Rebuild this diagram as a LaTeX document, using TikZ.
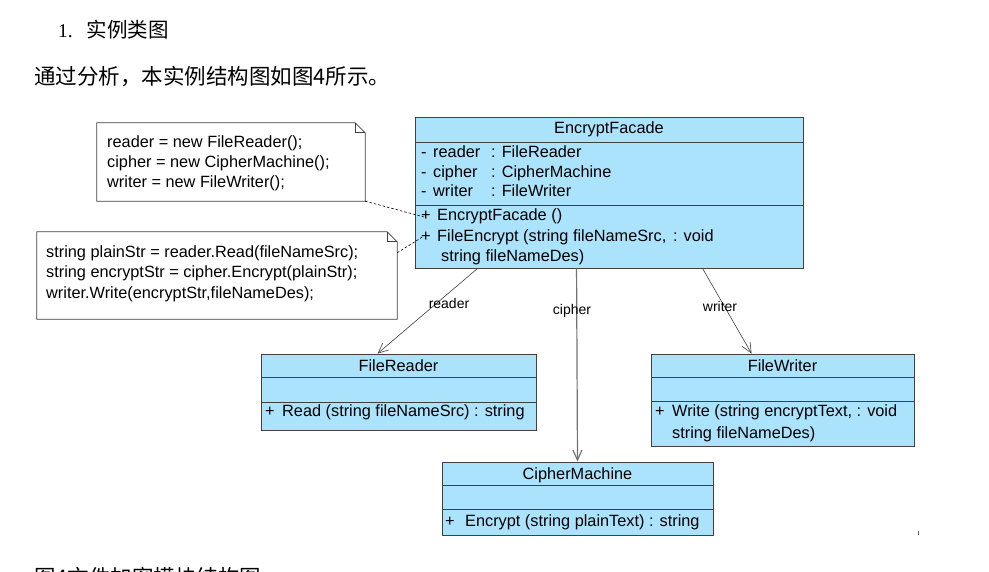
\documentclass[tikz,border=0pt]{standalone}
\usepackage{fontspec}
\setmainfont{Liberation Sans}
\newfontfamily\cjk{Noto Sans CJK SC}
\newfontfamily\numserif{Liberation Serif}
\usetikzlibrary{arrows.meta}
\definecolor{clsblue}{HTML}{ABE3FC}
\definecolor{lineg}{HTML}{404040}
\tikzset{
  clsbox/.style={draw=lineg, fill=clsblue, line width=0.9pt, inner sep=0pt},
  notebox/.style={inner sep=0pt},
  noteline/.style={draw=lineg, line width=0.8pt},
  sep/.style={draw=lineg, line width=0.8pt},
  txt/.style={anchor=base west, inner sep=0pt, font=\fontsize{16.3}{19}\selectfont},
  ctxt/.style={anchor=base, inner sep=0pt, font=\fontsize{16.3}{19}\selectfont},
  lbl/.style={inner sep=0pt, font=\fontsize{14}{16}\selectfont},
  assoc/.style={draw=lineg, line width=0.6pt, -{Straight Barb[length=10pt,width=9pt]}},
  assocg/.style={draw=black!55, line width=1.2pt, -{Straight Barb[length=10pt,width=9pt]}},
  anchorline/.style={draw=black, line width=0.6pt, dash pattern=on 2.5pt off 2pt},
}
\begin{document}
\begin{tikzpicture}[x=1pt, y=-1pt]
\useasboundingbox (0,0) rectangle (989,572);
\clip (0,0) rectangle (989,572);

% headings
\node[anchor=base west, inner sep=0pt, font=\fontsize{19.5}{22}\selectfont] (h1) at (58,37.5) {\numserif 1.\hspace{14pt}\cjk\fontsize{20.5}{24}\selectfont 实例类图};
\node[anchor=base west, inner sep=0pt, font=\cjk\fontsize{21.5}{24}\selectfont] (h2) at (34,85) {通过分析，本实例结构图如图4所示。};
\node[anchor=base west, inner sep=0pt, font=\cjk\fontsize{21.5}{24}\selectfont] (cap) at (34,585.5) {图4文件加密模块结构图};

% EncryptFacade
\node[clsbox, minimum width=388pt, minimum height=151pt] (ef) at (609,192.5) {};
\draw[sep] (415,142) -- (803,142);
\draw[sep] (415,205) -- (803,205);
\node[ctxt] (eft) at (609,134) {EncryptFacade};
\node[txt] (efa1) at (421,157.5) {\makebox[12pt][l]{-}\makebox[58pt][l]{reader}: FileReader};
\node[txt] (efa2) at (421,177.5) {\makebox[12pt][l]{-}\makebox[58pt][l]{cipher}: CipherMachine};
\node[txt] (efa3) at (421,196.5) {\makebox[12pt][l]{-}\makebox[58pt][l]{writer}: FileWriter};
\node[txt] (efm1) at (421,220.5) {\makebox[16pt][l]{+}EncryptFacade ()};
\node[txt] (efm2) at (421,241.5) {\makebox[16pt][l]{+}\makebox[236pt][l]{FileEncrypt (string fileNameSrc,}: void};
\node[txt] (efm3) at (441,261.5) {string fileNameDes)};

% FileReader
\node[clsbox, minimum width=275pt, minimum height=76pt] (fr) at (398.5,392) {};
\draw[sep] (261,377) -- (536,377);
\draw[sep] (261,402) -- (536,402);
\node[ctxt] (frt) at (398.5,371) {FileReader};
\node[txt] (frm) at (265,416.5) {\makebox[17pt][l]{+}Read (string fileNameSrc) : string};

% FileWriter
\node[clsbox, minimum width=263pt, minimum height=92pt] (fw) at (782.5,400) {};
\draw[sep] (651,377) -- (914,377);
\draw[sep] (651,401) -- (914,401);
\node[ctxt] (fwt) at (782.5,371) {FileWriter};
\node[txt] (fwm1) at (655,417) {\makebox[17pt][l]{+}Write (string encryptText, : void};
\node[txt] (fwm2) at (672,438) {string fileNameDes)};

% CipherMachine
\node[clsbox, minimum width=271pt, minimum height=73pt] (cm) at (577.5,498.5) {};
\draw[sep] (442,485) -- (713,485);
\draw[sep] (442,509) -- (713,509);
\node[ctxt] (cmt) at (577.5,479) {CipherMachine};
\node[txt] (cmm) at (445,526.5) {\makebox[20pt][l]{+}Encrypt (string plainText) : string};

% note 1
\node[notebox, minimum width=268pt, minimum height=78pt] (n1) at (231,162) {};
\draw[noteline, fill=white] (n1.south west) -- (n1.north west) -- ([xshift=-10pt]n1.north east) -- ([yshift=-10pt]n1.north east) -- (n1.south east) -- cycle;
\draw[noteline] ([xshift=-10pt]n1.north east) -- ([xshift=-10pt,yshift=-10pt]n1.north east) -- ([yshift=-10pt]n1.north east);
\node[txt] (n1a) at (107,147.5) {reader = new FileReader();};
\node[txt] (n1b) at (107,167.5) {cipher = new CipherMachine();};
\node[txt] (n1c) at (107,187.5) {writer = new FileWriter();};

% note 2
\node[notebox, minimum width=360pt, minimum height=87pt] (n2) at (217,275.5) {};
\draw[noteline, fill=white] (n2.south west) -- (n2.north west) -- ([xshift=-10pt]n2.north east) -- ([yshift=-10pt]n2.north east) -- (n2.south east) -- cycle;
\draw[noteline] ([xshift=-10pt]n2.north east) -- ([xshift=-10pt,yshift=-10pt]n2.north east) -- ([yshift=-10pt]n2.north east);
\node[txt] (n2a) at (46,257.5) {string plainStr = reader.Read(fileNameSrc);};
\node[txt] (n2b) at (46,277.5) {string encryptStr = cipher.Encrypt(plainStr);};
\node[txt] (n2c) at (46,298.5) {writer.Write(encryptStr,fileNameDes);};

% note anchors
\coordinate (a1) at (424,217);
\coordinate (a2) at (424,236);
\draw[anchorline] (n1.south east) -- (a1);
\draw[anchorline] ([yshift=-21pt]n2.north east) -- (a2);

% associations
\draw[assoc] ([xshift=63pt]ef.south west) -- ([xshift=117pt]fr.north west);
\draw[assocg] ([xshift=162pt]ef.south west) -- (cm.north);
\draw[assoc] ([xshift=288pt]ef.south west) -- ([xshift=101pt]fw.north west);
\node[lbl] (lr) at (449,303) {reader};
\node[lbl] (lc) at (572,311) {cipher};
\node[lbl] (lw) at (720,306) {writer};

% tiny mark
\draw[black!60, line width=0.8pt] (918,531) -- (918,535);
\end{tikzpicture}
\end{document}
